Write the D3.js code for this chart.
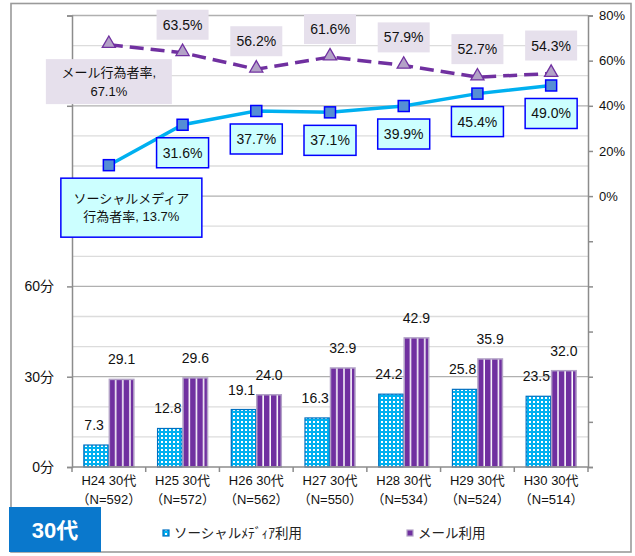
<!DOCTYPE html>
<html>
<head>
<meta charset="utf-8">
<script src="https://cdn.jsdelivr.net/npm/d3@7"></script>
<style>
  html, body { margin: 0; padding: 0; background: #fff; }
  svg { display: block; font-family: "Liberation Sans", Arial, "Noto Sans CJK JP", sans-serif; }
  .cat { white-space: pre; }
</style>
</head>
<body>
<svg id="chart" width="635" height="556"></svg>
<script>
// Survey years and sample sizes (30s age group)
const categories = ["H24", "H25", "H26", "H27", "H28", "H29", "H30"];
const sampleSizes = [592, 572, 562, 550, 534, 524, 514];

// Average minutes of use per day
const socialMinutes = [7.3, 12.8, 19.1, 16.3, 24.2, 25.8, 23.5];
const mailMinutes = [29.1, 29.6, 24.0, 32.9, 42.9, 35.9, 32.0];

// Share of people who used it (%)
const socialRate = [13.7, 31.6, 37.7, 37.1, 39.9, 45.4, 49.0];
const mailRate = [67.1, 63.5, 56.2, 61.6, 57.9, 52.7, 54.3];

// Axis ticks
const minuteTicks = [0, 30, 60];
const rateTicks = [0, 20, 40, 60, 80];

const svg = d3.select("#chart");
const plot = { left: 72, right: 588, top: 15.5, bottom: 467 };

const x = d3.scaleBand().domain(categories).range([plot.left, plot.right]).padding(0);
const xInner = d3.scaleBand().domain(["social", "mail"]).range([0, x.bandwidth()])
  .paddingInner(0).paddingOuter(0.445);
const yMin = d3.scaleLinear().domain([0, 150]).range([plot.bottom, plot.top]);
const yRate = d3.scaleLinear().domain([-120, 80]).range([plot.bottom, plot.top]);
const cx = i => x(categories[i]) + x.bandwidth() / 2;

// Fill patterns for the bars
const defs = svg.append("defs");
const dots = defs.append("pattern").attr("id", "dots")
  .attr("patternUnits", "userSpaceOnUse").attr("width", 4).attr("height", 4);
dots.append("rect").attr("width", 4).attr("height", 4).attr("fill", "#00b0f0");
dots.append("rect").attr("x", 1).attr("y", 1).attr("width", 2).attr("height", 2).attr("fill", "#fff");

const stripes = defs.append("pattern").attr("id", "stripes")
  .attr("patternUnits", "objectBoundingBox").attr("patternContentUnits", "userSpaceOnUse")
  .attr("x", 0).attr("y", 0).attr("width", 7.4 / xInner.bandwidth()).attr("height", 1);
stripes.append("rect").attr("width", 7.4).attr("height", 600).attr("fill", "#7030a0");
stripes.append("rect").attr("x", 5.6).attr("width", 1.8).attr("height", 600).attr("fill", "#fff");

// Outer frame
svg.append("rect").attr("x", 11).attr("y", 3.5).attr("width", 620).attr("height", 548.5)
  .attr("fill", "#fff").attr("stroke", "#9a9a9a").attr("stroke-width", 1.6);

// Horizontal gridlines every 10 minutes, darker every 30
const gridVals = d3.range(10, 151, 10);
svg.append("g").selectAll("line").data(gridVals).join("line")
  .attr("x1", plot.left).attr("x2", plot.right)
  .attr("y1", d => yMin(d)).attr("y2", d => yMin(d))
  .attr("stroke", d => d % 30 === 0 ? "#b0b0b0" : "#dcdcdc")
  .attr("stroke-width", 1.3);

// Bars
const barG = svg.append("g");
categories.forEach((c, i) => {
  barG.append("rect")
    .attr("x", x(c) + xInner("social") + 0.5)
    .attr("y", yMin(socialMinutes[i]))
    .attr("width", xInner.bandwidth() - 1)
    .attr("height", yMin(0) - yMin(socialMinutes[i]))
    .attr("fill", "url(#dots)").attr("stroke", "#0070c0").attr("stroke-width", 1.2);
  barG.append("rect")
    .attr("x", x(c) + xInner("mail") + 0.5)
    .attr("y", yMin(mailMinutes[i]))
    .attr("width", xInner.bandwidth() - 1)
    .attr("height", yMin(0) - yMin(mailMinutes[i]))
    .attr("fill", "url(#stripes)").attr("stroke", "#b3a2c7").attr("stroke-width", 1.5);
});

// Bar value labels
const valG = svg.append("g").attr("font-size", 14).attr("fill", "#111").attr("text-anchor", "middle");
categories.forEach((c, i) => {
  valG.append("text")
    .attr("x", x(c) + xInner("social") + xInner.bandwidth() / 2 - 2)
    .attr("y", yMin(socialMinutes[i]) - 15)
    .text(socialMinutes[i].toFixed(1));
  valG.append("text")
    .attr("x", x(c) + xInner("mail") + xInner.bandwidth() / 2)
    .attr("y", yMin(mailMinutes[i]) - 15)
    .text(mailMinutes[i].toFixed(1));
});

// Left axis (minutes)
const leftAxis = d3.axisLeft(yMin).tickValues(d3.range(0, 151, 30)).tickSize(5)
  .tickFormat(d => minuteTicks.includes(d) ? d + "分" : "");
const gl = svg.append("g").attr("transform", `translate(${plot.left},0)`).call(leftAxis);
gl.select(".domain").attr("stroke", "#8c8c8c").attr("stroke-width", 1.5);
gl.selectAll(".tick line").attr("stroke", "#8c8c8c").attr("stroke-width", 1.5);
gl.selectAll(".tick text").attr("font-size", 14).attr("fill", "#111")
  .attr("font-family", "Liberation Sans, Arial, Noto Sans CJK JP, sans-serif").attr("x", -18);

// Right axis (percent)
const rightAxis = d3.axisRight(yRate).tickValues(d3.range(-120, 81, 20)).tickSize(5)
  .tickFormat(d => rateTicks.includes(d) ? d + "%" : "");
const gr = svg.append("g").attr("transform", `translate(${plot.right},0)`).call(rightAxis);
gr.select(".domain").attr("stroke", "#8c8c8c").attr("stroke-width", 1.5);
gr.selectAll(".tick line").attr("stroke", "#8c8c8c").attr("stroke-width", 1.5);
gr.selectAll(".tick text").attr("font-size", 13).attr("fill", "#111")
  .attr("font-family", "Liberation Sans, Arial, sans-serif").attr("x", 11);

// Bottom axis with category boundary ticks
svg.append("line").attr("x1", plot.left).attr("x2", plot.right)
  .attr("y1", plot.bottom).attr("y2", plot.bottom)
  .attr("stroke", "#8c8c8c").attr("stroke-width", 1.5);
const bounds = categories.map(c => x(c)).concat([plot.right]);
svg.append("g").selectAll("line").data(bounds).join("line")
  .attr("x1", d => d).attr("x2", d => d)
  .attr("y1", plot.bottom).attr("y2", plot.bottom + 5)
  .attr("stroke", "#8c8c8c").attr("stroke-width", 1.5);

// Category labels
const catG = svg.append("g").attr("font-size", 13).attr("fill", "#111").attr("text-anchor", "middle");
categories.forEach((c, i) => {
  catG.append("text").attr("class", "cat").attr("x", cx(i)).attr("y", 485).text(`${c} 30代`);
  catG.append("text").attr("x", cx(i)).attr("y", 504).text(`（N=${sampleSizes[i]}）`);
});

// Rate lines
const lineGen = d3.line().x((d, i) => cx(i)).y(d => yRate(d));
svg.append("path").datum(mailRate).attr("d", lineGen)
  .attr("fill", "none").attr("stroke", "#7030a0").attr("stroke-width", 3.5)
  .attr("stroke-dasharray", "14,7");
svg.append("path").datum(socialRate).attr("d", lineGen)
  .attr("fill", "none").attr("stroke", "#00b0f0").attr("stroke-width", 3.5);

// Markers
const tri = d3.symbol().type(d3.symbolTriangle).size(75);
svg.append("g").selectAll("path").data(mailRate).join("path")
  .attr("d", tri)
  .attr("transform", (d, i) => `translate(${cx(i)},${yRate(d) - 1})`)
  .attr("fill", "#b3a2c7").attr("stroke", "#7030a0").attr("stroke-width", 1.3);
svg.append("g").selectAll("rect").data(socialRate).join("rect")
  .attr("x", (d, i) => cx(i) - 5.5).attr("y", d => yRate(d) - 5.5)
  .attr("width", 11).attr("height", 11)
  .attr("fill", "#558ed5").attr("stroke", "#0000ff").attr("stroke-width", 1.5);

// Label boxes for the rate series
function labelBox(g, cxp, cyp, w, h, lines, fill, stroke, fontSize, lineGap) {
  g.append("rect").attr("x", cxp - w / 2).attr("y", cyp - h / 2).attr("width", w).attr("height", h)
    .attr("fill", fill).attr("stroke", stroke || "none").attr("stroke-width", stroke ? 1.5 : 0);
  const n = lines.length;
  lines.forEach((t, k) => {
    g.append("text").attr("x", cxp).attr("y", cyp + (k - (n - 1) / 2) * lineGap)
      .attr("dominant-baseline", "central").attr("text-anchor", "middle")
      .attr("font-size", fontSize).attr("fill", "#111").text(t);
  });
}

const lblG = svg.append("g");
mailRate.forEach((v, i) => {
  if (i === 0) {
    labelBox(lblG, cx(i), yRate(v) + 37, 126, 45, ["メール行為者率,", `${v.toFixed(1)}%`], "#e6e0ec", null, 13, 19);
  } else {
    labelBox(lblG, cx(i), yRate(v) - 28, 52, 30, [`${v.toFixed(1)}%`], "#e6e0ec", null, 14, 0);
  }
});
socialRate.forEach((v, i) => {
  if (i === 0) {
    labelBox(lblG, cx(i) + 22.5, yRate(v) + 42.5, 141, 59, ["ソーシャルメディア", `行為者率, ${v.toFixed(1)}%`], "#ccffff", "#0000ff", 13, 18);
  } else {
    labelBox(lblG, cx(i), yRate(v) + 28, 52, 30, [`${v.toFixed(1)}%`], "#ccffff", "#0000ff", 14, 0);
  }
});

// Age group badge
svg.append("rect").attr("x", 9).attr("y", 507).attr("width", 92).attr("height", 45).attr("fill", "#0a78cc");
svg.append("text").attr("x", 55).attr("y", 530).attr("dominant-baseline", "central")
  .attr("text-anchor", "middle").attr("font-size", 22).attr("font-weight", "bold")
  .attr("fill", "#fff").text("30代");

// Legend
const legend = [
  { label: "ソーシャルﾒﾃﾞｨｱ利用", fill: "url(#dots)", stroke: "#0070c0", x: 163 },
  { label: "メール利用", fill: "#7030a0", stroke: "#b3a2c7", x: 407 }
];
const lg = svg.append("g");
legend.forEach(d => {
  lg.append("rect").attr("x", d.x).attr("y", 530).attr("width", 6).attr("height", 6)
    .attr("fill", d.fill).attr("stroke", d.stroke).attr("stroke-width", 1.2);
  lg.append("text").attr("x", d.x + 11).attr("y", 533).attr("dominant-baseline", "central")
    .attr("font-size", 13.5).attr("fill", "#222").text(d.label);
});
</script>
</body>
</html>
